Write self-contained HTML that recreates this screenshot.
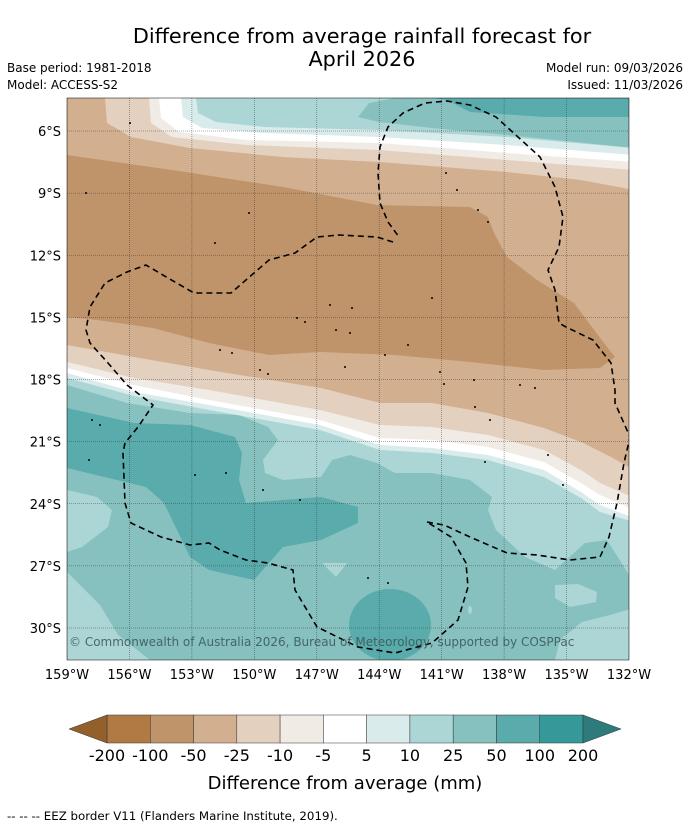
<!DOCTYPE html>
<html><head><meta charset="utf-8">
<style>
body{margin:0;background:#fff;width:690px;height:827px;overflow:hidden;font-family:"DejaVu Sans","Liberation Sans",sans-serif;}
svg{position:absolute;left:0;top:0;font-family:"DejaVu Sans","Liberation Sans",sans-serif;}
</style></head>
<body>
<svg id="fig" width="690" height="827">
<text x="362" y="43" font-size="20.8" text-anchor="middle">Difference from average rainfall forecast for</text>
<text x="362" y="66" font-size="20.8" text-anchor="middle">April 2026</text>
<text x="7" y="72" font-size="12">Base period: 1981-2018</text>
<text x="7" y="89" font-size="12">Model: ACCESS-S2</text>
<text x="683" y="72" font-size="12" text-anchor="end">Model run: 09/03/2026</text>
<text x="683" y="89" font-size="12" text-anchor="end">Issued: 11/03/2026</text>
<defs><clipPath id="mc"><rect x="67" y="98" width="562" height="562"/></clipPath></defs>
<g clip-path="url(#mc)">
<rect x="67" y="98" width="562" height="562" fill="#86c1c0"/>
<polygon fill="#acd6d5" points="67,98 629,98 634,583 626,570 607,540 585,543 555,570 525,557 496,530 488,510 492,497 470,480 432,473 395,473 377,463 350,455 332,460 321,477 283,480 265,473 263,460 278,440 268,427 239,415 190,413 127,403 67,385"/>
<polygon fill="#d9ebea" points="67,98 196,98 198,113 216,122 265,127 379,130 507,137 634,148 634,522 600,512 581,498 544,477 488,460 432,453 380,450 320,430 209,410 134,396 67,378"/>
<polygon fill="#ffffff" points="67,98 181,98 183,117 202,128 265,133 379,137 507,145 634,155 634,518 600,505 581,492 544,470 488,455 432,448 380,445 320,425 209,405 134,392 67,373"/>
<polygon fill="#f1ebe6" points="67,98 159,98 161,118 179,132 246,140 379,143 507,153 634,162 634,510 600,495 581,483 544,462 488,447 432,440 380,438 320,420 209,400 134,385 67,368"/>
<polygon fill="#e4d0bf" points="67,98 149,98 151,123 172,137 246,145 379,150 507,160 634,170 634,498 600,483 581,470 544,450 488,435 432,427 380,425 320,410 209,390 134,378 67,362"/>
<polygon fill="#d2b08f" points="67,98 105,98 107,123 131,137 190,148 283,157 379,162 507,172 581,180 634,190 634,470 611,457 581,442 544,428 488,413 432,403 380,403 321,388 283,382 209,370 134,357 67,345"/>
<polygon fill="#c0946a" points="67,155 172,170 283,187 377,205 470,207 488,217 494,233 507,257 537,280 574,303 607,347 615,357 600,368 544,370 470,362 395,355 321,352 269,355 209,343 153,328 97,320 67,317"/>
<polygon fill="#86c1c0" points="395,98 634,98 634,148 507,135 432,128 379,122 358,117 369,103"/>
<polygon fill="#5aabab" points="432,98 634,98 634,117 545,117 470,112 447,100"/>
<polygon fill="#5aabab" points="67,408 134,423 190,425 235,437 242,453 239,480 246,503 283,500 321,497 358,507 358,523 321,540 283,547 254,580 209,570 190,557 164,503 146,487 67,468"/>
<polygon fill="#acd6d5" points="67,490 97,497 112,510 108,527 82,547 67,552"/>
<polygon fill="#acd6d5" points="67,572 80,585 100,605 118,635 150,660 67,660"/>
<polygon fill="#acd6d5" points="322,563 347,563 336,577"/>
<polygon fill="#acd6d5" points="555,585 578,584 597,592 596,602 570,607 555,598"/>
<polygon fill="#acd6d5" points="555,660 560,640 582,622 610,615 634,608 634,660"/>
<ellipse cx="390" cy="625" rx="41" ry="36" fill="#5aabab"/>
<ellipse cx="470" cy="610" rx="2" ry="4" fill="#acd6d5"/>
<g id="grid"></g>
<g id="islands"></g>
<path fill="none" stroke="#000" stroke-width="1.6" stroke-dasharray="6,4" d="M427,522 L444,525 470,537 507,553 537,555 570,560 600,557 609,537 617,503 624,463 630,437 615,403 615,390 611,363 593,340 566,327 559,323 555,290 548,270 559,247 563,217 555,187 540,157 518,137 496,117 470,105 447,101 425,103 403,113 388,127 380,147 378,173 380,203 388,222 399,237"/>
<path fill="none" stroke="#000" stroke-width="1.6" stroke-dasharray="6,4" d="M393,242 L377,237 339,235 317,237 295,253 269,260 254,273 231,293 194,293 168,278 146,265 127,272 105,283 90,307 86,330 90,343 108,363 127,385 153,405 138,427 125,443 123,453 125,503 131,523 161,537 190,545 209,543 220,550 246,560 268,563 293,570 295,590 317,627 358,647 395,653 432,643 458,620 468,587 466,563 451,537 427,522"/>
<text x="69" y="646" font-size="12" fill="#3a5555" fill-opacity="0.85">© Commonwealth of Australia 2026, Bureau of Meteorology, supported by COSPPac</text>
</g>
<rect x="67" y="98" width="562" height="562" fill="none" stroke="#000" stroke-width="0.5"/>
<g id="axes"></g>
<g id="cbar"></g>
<text x="345" y="789" font-size="18" text-anchor="middle">Difference from average (mm)</text>
<text x="7" y="820" font-size="11.8">--  --  -- EEZ border V11 (Flanders Marine Institute, 2019).</text>
</svg>
<script>
const lonTicks=[159,156,153,150,147,144,141,138,135,132];
const latTicks=[6,9,12,15,18,21,24,27,30];
const cbarLevels=["-200","-100","-50","-25","-10","-5","5","10","25","50","100","200"];
const cbarColors=["#b07a44","#c0946a","#d2b08f","#e4d0bf","#f1ebe6","#ffffff","#d9ebea","#acd6d5","#86c1c0","#5aabab","#35999a"];
const extColors=["#935f2b","#2e7b7c"];
const islandPts=[[86,193],[130,123],[249,213],[215,243],[330,305],[352,308],[297,318],[305,322],[336,330],[350,333],[220,350],[232,353],[260,370],[268,374],[345,367],[385,355],[408,345],[440,372],[446,173],[457,190],[478,210],[488,222],[432,298],[444,384],[474,380],[520,385],[535,388],[485,462],[548,455],[563,485],[89,460],[92,420],[100,425],[195,475],[226,473],[263,490],[300,500],[368,578],[388,583],[475,407],[490,420]];
const NS="http://www.w3.org/2000/svg";
const X0=67,X1=629,Y0=98,Y1=660;
function xOf(lon){return X0+(159-lon)*(X1-X0)/27;}
function yOf(lat){return 131+(lat-6)*(628-131)/24;}
function mk(tag,attrs,parent){const e=document.createElementNS(NS,tag);for(const k in attrs)e.setAttribute(k,attrs[k]);parent.appendChild(e);return e;}
const grid=document.getElementById('grid'),axes=document.getElementById('axes'),isl=document.getElementById('islands');
lonTicks.forEach(l=>{const x=xOf(l);
 const ln=mk('line',{x1:x,x2:x,y1:Y0,y2:Y1,stroke:'#333','stroke-width':0.6,'stroke-opacity':0.7,'stroke-dasharray':'1,1'},grid);
 
 
 const t=mk('text',{x:x,y:679,'font-size':13,'text-anchor':'middle'},axes);t.textContent=l+'°W';
 
 
});
latTicks.forEach(l=>{const y=yOf(l);
 const ln=mk('line',{x1:X0,x2:X1,y1:y,y2:y,stroke:'#333','stroke-width':0.6,'stroke-opacity':0.8,'stroke-dasharray':'1,1'},grid);
 
 
 const t=mk('text',{x:61,y:y+5,'font-size':13,'text-anchor':'end'},axes);t.textContent=l+'°S';
 
 
});
islandPts.forEach(p=>{const c=mk('circle',{cx:p[0],cy:p[1],r:1,fill:'#000'},isl);
 
 
});
const cb=document.getElementById('cbar');
const cx0=107,cx1=583,cy0=715,cy1=743,n=cbarColors.length,w=(cx1-cx0)/n;
cbarColors.forEach((c,i)=>{const r=mk('rect',{x:cx0+i*w,y:cy0,width:w,height:cy1-cy0,fill:c,stroke:'#333','stroke-width':0.5},cb);
 
 
});
const tl=mk('polygon',{points:`${cx0},${cy0} ${cx0},${cy1} 69,729`,fill:extColors[0],stroke:'#333','stroke-width':0.5},cb);


const tr=mk('polygon',{points:`${cx1},${cy0} ${cx1},${cy1} 621,729`,fill:extColors[1],stroke:'#333','stroke-width':0.5},cb);


cbarLevels.forEach((s,i)=>{const t=mk('text',{x:cx0+i*w,y:761,'font-size':16,'text-anchor':'middle'},cb);t.textContent=s;
 
 
});
</script>
</body></html>
